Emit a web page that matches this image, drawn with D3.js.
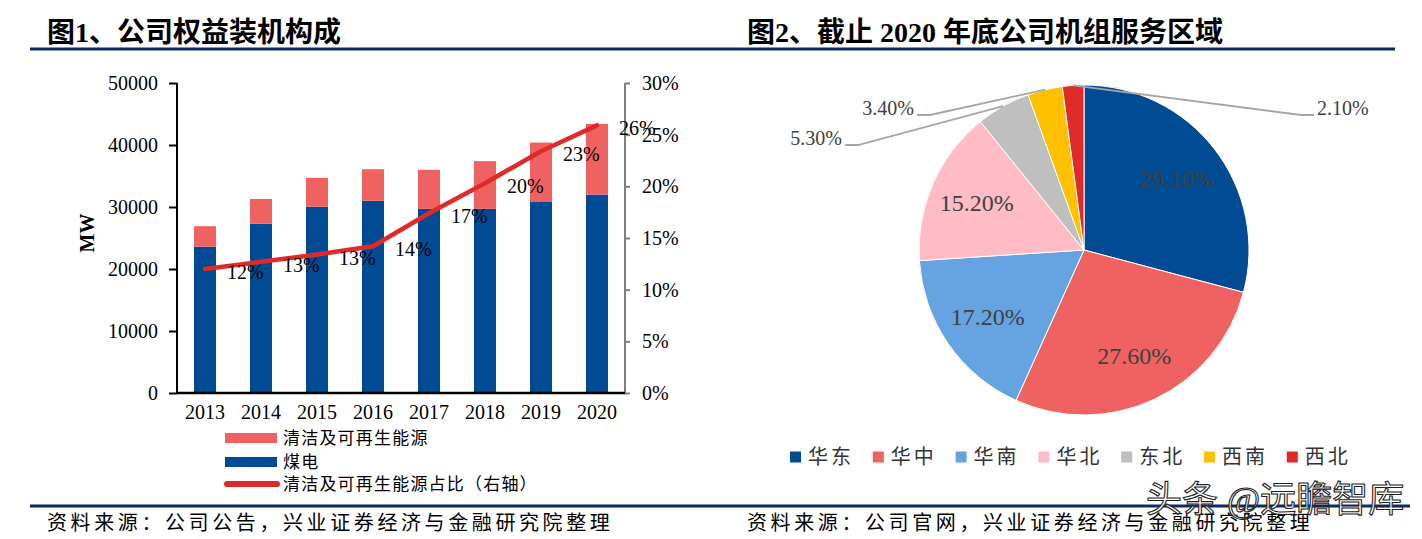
<!DOCTYPE html>
<html><head><meta charset="utf-8">
<script src="https://cdn.jsdelivr.net/npm/d3@7"></script>
<style>
html,body{margin:0;padding:0;background:#fff;}
svg{display:block;}
text{font-family:"Liberation Serif","Noto Sans CJK SC",serif;}
.cjk{font-family:"Liberation Serif","Noto Sans CJK SC",sans-serif;}
</style></head>
<body>
<svg id="c" width="1422" height="539"></svg>
<script>
// ---------- data ----------
const years = ["2013","2014","2015","2016","2017","2018","2019","2020"];
const coalMW = [23600, 27300, 30050, 31000, 29700, 29700, 30900, 32000];
const cleanMW = [3300, 4000, 4650, 5100, 6300, 7700, 9500, 11400];
const cleanShare = [0.120, 0.127, 0.134, 0.142, 0.174, 0.203, 0.234, 0.259];
const leftTicks = [0, 10000, 20000, 30000, 40000, 50000];
const rightTicks = [0, 0.05, 0.10, 0.15, 0.20, 0.25, 0.30];
const legendLeft = ["清洁及可再生能源", "煤电", "清洁及可再生能源占比（右轴）"];

const regions = ["华东","华中","华南","华北","东北","西南","西北"];
const regionShare = [29.1, 27.6, 17.2, 15.2, 5.3, 3.4, 2.1];

const title1 = "图1、公司权益装机构成";
const title2 = "图2、截止 2020 年底公司机组服务区域";
const source1 = "资料来源：公司公告，兴业证券经济与金融研究院整理";
const source2 = "资料来源：公司官网，兴业证券经济与金融研究院整理";
const watermark = "头条 @远瞻智库";

// ---------- styles ----------
const C_COAL = "#004b93", C_CLEAN = "#f06262", C_LINE = "#e02a2a", C_RULE = "#0e2a66";
const pieColors = ["#004b93","#f06262","#66a3e2","#ffbbc6","#bfbfbf","#ffc000","#e02a2a"];

const svg = d3.select("#c");

// titles and rules
svg.append("text").attr("x",47).attr("y",32).attr("dominant-baseline","central")
  .attr("font-size",28).attr("font-weight","bold").text(title1);
svg.append("text").attr("x",747).attr("y",32).attr("dominant-baseline","central")
  .attr("font-size",28).attr("font-weight","bold").text(title2);
svg.append("line").attr("x1",30).attr("x2",1395).attr("y1",49).attr("y2",49)
  .attr("stroke",C_RULE).attr("stroke-width",3);
svg.append("line").attr("x1",30).attr("x2",1410).attr("y1",506).attr("y2",506)
  .attr("stroke",C_RULE).attr("stroke-width",3);
svg.append("text").attr("x",47).attr("y",523).attr("dominant-baseline","central")
  .attr("font-size",20).attr("letter-spacing","3.6px").text(source1);
svg.append("text").attr("x",747).attr("y",523).attr("dominant-baseline","central")
  .attr("font-size",20).attr("letter-spacing","3.6px").text(source2);

// ---------- left chart ----------
const x = d3.scaleBand().domain(years).range([177, 625]).paddingInner(0.607).paddingOuter(0.3035);
const y = d3.scaleLinear().domain([0, 50000]).range([393, 83]);
const y2 = d3.scaleLinear().domain([0, 0.30]).range([393, 83]);

const g = svg.append("g");
// bars
g.selectAll(".coal").data(years).join("rect")
  .attr("x", d => x(d)).attr("width", x.bandwidth())
  .attr("y", (d,i) => y(coalMW[i])).attr("height", (d,i) => y(0) - y(coalMW[i]))
  .attr("fill", C_COAL);
g.selectAll(".clean").data(years).join("rect")
  .attr("x", d => x(d)).attr("width", x.bandwidth())
  .attr("y", (d,i) => y(coalMW[i] + cleanMW[i])).attr("height", (d,i) => y(coalMW[i]) - y(coalMW[i] + cleanMW[i]))
  .attr("fill", C_CLEAN);

// axes
const ax = g.append("g").attr("transform","translate(177,0)")
  .call(d3.axisLeft(y).tickValues(leftTicks).tickFormat(d3.format("d")).tickSize(8).tickPadding(11));
ax.selectAll("path,line").attr("stroke","#000").attr("stroke-width",2);
ax.select(".domain").attr("d","M0,83V393");
ax.selectAll("text").attr("font-size",20).attr("fill","#000").attr("font-family","Liberation Serif");

const ar = g.append("g").attr("transform","translate(625,0)")
  .call(d3.axisRight(y2).tickValues(rightTicks).tickFormat(d3.format(".0%")).tickSize(5).tickPadding(12));
ar.selectAll("path,line").attr("stroke","#7f7f7f").attr("stroke-width",2);
ar.select(".domain").attr("d","M0,83V393");
ar.selectAll("text").attr("font-size",20).attr("fill","#000").attr("font-family","Liberation Serif");

const ab = g.append("g").attr("transform","translate(0,393)")
  .call(d3.axisBottom(x).tickSize(0).tickPadding(12));
ab.select(".domain").attr("stroke","#000").attr("stroke-width",2.5).attr("d","M177,0H625");
ab.selectAll("text").attr("font-size",20).attr("fill","#000").attr("font-family","Liberation Serif");

// MW label
g.append("text").attr("transform","translate(87,233) rotate(-90)")
  .attr("text-anchor","middle").attr("dominant-baseline","central")
  .attr("font-size",20).attr("font-weight","bold").text("MW");

// line
const line = d3.line().x((d,i) => x(years[i]) + x.bandwidth()/2).y(d => y2(d));
g.append("path").datum(cleanShare).attr("d", line)
  .attr("fill","none").attr("stroke",C_LINE).attr("stroke-width",4.5)
  .attr("stroke-linecap","round").attr("stroke-linejoin","round");
g.selectAll(".lbl").data(cleanShare).join("text")
  .attr("x", (d,i) => x(years[i]) + x.bandwidth()/2 + 22)
  .attr("y", d => y2(d) + 3)
  .attr("dominant-baseline","central").attr("font-size",20).attr("fill","#000")
  .text(d => d3.format(".0%")(d));

// left legend
const lg = g.append("g");
const legY = [438, 462, 484];
lg.append("rect").attr("x",225).attr("y",legY[0]-5).attr("width",52).attr("height",10).attr("fill",C_CLEAN);
lg.append("rect").attr("x",225).attr("y",legY[1]-5).attr("width",52).attr("height",10).attr("fill",C_COAL);
lg.append("line").attr("x1",227).attr("x2",277).attr("y1",legY[2]).attr("y2",legY[2])
  .attr("stroke",C_LINE).attr("stroke-width",6).attr("stroke-linecap","round");
lg.selectAll("text").data(legendLeft).join("text")
  .attr("x",283).attr("y",(d,i)=>legY[i]).attr("dominant-baseline","central")
  .attr("font-size",17).attr("letter-spacing","1.2px").text(d=>d);

// ---------- pie ----------
const cx = 1084, cy = 250, R = 165;
const pg = svg.append("g").attr("transform",`translate(${cx},${cy})`);
const pie = d3.pie().sort(null).value(d => d);
const arcs = pie(regionShare);
const arc = d3.arc().innerRadius(0).outerRadius(R);
const labelArc = d3.arc().innerRadius(117).outerRadius(117);
const edgeArc = d3.arc().innerRadius(R).outerRadius(R);
pg.selectAll("path").data(arcs).join("path")
  .attr("d", arc).attr("fill", (d,i) => pieColors[i]).attr("stroke","#fff").attr("stroke-width",1);

const fmtPct = v => v.toFixed(2) + "%";
// inside labels
pg.selectAll(".in").data(arcs.filter(d => d.data >= 10)).join("text")
  .attr("transform", d => `translate(${labelArc.centroid(d)})`)
  .attr("text-anchor","middle").attr("dominant-baseline","central")
  .attr("font-size",24).attr("fill","#404040").text(d => fmtPct(d.data));

// outside labels with leader lines (elbow offsets relative to pie centre)
const outside = [
  {i:4, elbow:[-226,-105], dir:-1},
  {i:5, elbow:[-154,-135], dir:-1},
  {i:6, elbow:[217,-135], dir:1}
];
outside.forEach(o => {
  const a = arcs[o.i];
  const p0 = edgeArc.centroid(a);
  const p1 = o.elbow;
  const p2 = [p1[0] + o.dir*13, p1[1]];
  pg.append("polyline").attr("points",[p0,p1,p2].map(p=>p.join(",")).join(" "))
    .attr("fill","none").attr("stroke","#a6a6a6").attr("stroke-width",1.8);
  pg.append("text").attr("x", p2[0] + o.dir*3).attr("y", p1[1]-7)
    .attr("text-anchor", o.dir < 0 ? "end" : "start").attr("dominant-baseline","central")
    .attr("font-size",20).attr("fill","#404040").text(fmtPct(a.data));
});

// pie legend
const pl = svg.append("g");
const pls = pl.selectAll("g").data(regions).join("g")
  .attr("transform",(d,i)=>`translate(${790 + i*82.8},457)`);
pls.append("rect").attr("x",0).attr("y",-5.5).attr("width",11).attr("height",11).attr("fill",(d,i)=>pieColors[i]);
pls.append("text").attr("x",18).attr("y",0).attr("dominant-baseline","central")
  .attr("font-size",20).attr("letter-spacing","3px").attr("fill","#333").text(d=>d);

// watermark
svg.append("text").attr("x",1146).attr("y",500).attr("dominant-baseline","central")
  .attr("font-family","Noto Sans CJK SC").attr("font-size",36)
  .attr("fill","#fff").attr("fill-opacity",0.85).attr("stroke","#222").attr("stroke-width",1.1)
  .text(watermark);
</script>
</body></html>
